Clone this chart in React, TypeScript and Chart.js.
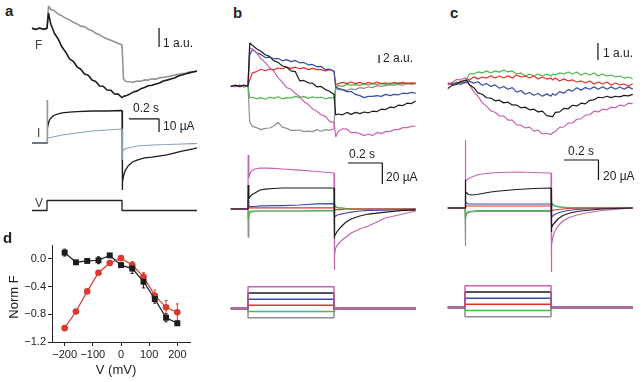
import React, { useEffect, useRef } from "react";
import { Chart, registerables } from "chart.js";

Chart.register(...registerables);
const FONT = "'Liberation Sans', Arial, Helvetica, sans-serif";
Chart.defaults.font.family = FONT;

// ---------- colours ----------
const C_BLACK = "#1c1c1c";
const C_GRAY_A = "#8e9497";
const C_GRAY_AI = "#89a1b1";
const C_MAGENTA = "#c865b2";
const C_BLUE = "#3a4ea2";
const C_RED = "#e5302a";
const C_GREEN = "#4db848";
const C_GRAY = "#8d9092";
const C_D_RED = "#d93a30";

// ---------- time bases (s, pulse from 0 to 0.5 s) ----------
const TIME_F = [-0.1, -0.075, -0.05, -0.025, 0, 0.01, 0.025, 0.05, 0.075, 0.1, 0.125, 0.15, 0.175, 0.2, 0.225, 0.25, 0.275, 0.3, 0.325, 0.35, 0.375, 0.4, 0.425, 0.45, 0.475, 0.5, 0.51, 0.525, 0.55, 0.575, 0.6, 0.625, 0.65, 0.675, 0.7, 0.725, 0.75, 0.775, 0.8, 0.825, 0.85, 0.875, 0.9, 0.925, 0.95, 0.975, 1.0];
const TIME_I = [-0.1, 0, 0.001, 0.005, 0.01, 0.02, 0.04, 0.07, 0.1, 0.15, 0.2, 0.3, 0.4, 0.5, 0.501, 0.505, 0.51, 0.52, 0.54, 0.57, 0.6, 0.65, 0.7, 0.8, 0.9, 0.975, 1.0];
const TIME_V_A = [-0.1, 0, 0, 0.5, 0.5, 1.0];
const TIME_V_BC = [-0.1, 0, 0, 0.5, 0.5, 0.975];

// ---------- panel a : fluorescence (a.u.) ----------
const F_A_BLACK = [0.05, -0.03, 0.06, -0.02, 0.04, 0.84, 0.26, -0.24, -0.53, -0.95, -1.22, -1.57, -1.70, -1.99, -2.12, -2.37, -2.44, -2.68, -2.76, -3.00, -3.01, -3.21, -3.22, -3.42, -3.43, -3.62, -3.54, -3.52, -3.43, -3.32, -3.27, -3.15, -3.08, -2.99, -2.96, -2.89, -2.84, -2.74, -2.69, -2.63, -2.58, -2.47, -2.42, -2.36, -2.31, -2.25, -2.22];
const F_A_GRAY = [0.02, -0.01, 0.03, 0.0, 0.01, 1.21, 1.03, 0.96, 0.78, 0.69, 0.56, 0.48, 0.35, 0.27, 0.15, 0.12, -0.01, -0.09, -0.23, -0.30, -0.43, -0.51, -0.59, -0.67, -0.76, -0.83, -2.63, -2.76, -2.78, -2.80, -2.74, -2.75, -2.68, -2.69, -2.62, -2.64, -2.56, -2.55, -2.51, -2.48, -2.42, -2.38, -2.35, -2.33, -2.26, -2.27, -2.20];
// panel a : current (µA)
const I_A_BLACK = [0, 0, 33, 11.5, 15.4, 18.5, 20.8, 22.3, 23.1, 23.8, 24.2, 24.6, 24.6, 25.0, -36.2, -30, -25.4, -21.5, -17.7, -14.6, -13.1, -11.5, -10.8, -9.2, -6.2, -4.5, -3.8];
const I_A_GRAY = [0, 0, 33, 3.8, 3.8, 4.2, 4.6, 5.4, 6.2, 6.9, 7.7, 9.2, 10.0, 10.8, -13, -6.9, -5.4, -4.6, -3.8, -3.1, -2.3, -1.9, -1.5, -1.2, -0.8, -0.5, -0.4];
// panel a : voltage (mV)
const V_A = [-80, -80, 80, 80, -80, -80];

// ---------- panel b : fluorescence (a.u.) ----------
const F_B_MAGENTA = [0.2, -0.2, 0.25, -0.1, 0.1, 9.5, 9.3, 8.4, 6.8, 5.9, 4.6, 3.7, 2.1, 0.9, -0.4, -0.8, -1.9, -2.6, -3.9, -4.6, -5.7, -6.3, -7.2, -7.6, -8.9, -9.1, -12.75, -11.3, -10.7, -10.8, -11.7, -11.6, -11.9, -12.4, -12.0, -12.4, -11.6, -11.9, -11.4, -11.4, -10.9, -10.9, -10.4, -10.4, -10.1, -10.0];
const F_B_BLACK = [-0.2, 0.2, -0.1, 0.25, 0, 10.75, 10.2, 9.3, 8.7, 7.8, 7.4, 6.3, 5.9, 5.0, 4.7, 3.8, 3.6, 1.3, 1.4, 0.8, 0.7, -0.2, -0.1, -0.9, -1.3, -2.1, -7.25, -7.0, -7.2, -6.6, -7.1, -6.6, -6.9, -6.5, -6.7, -6.3, -6.4, -5.8, -5.9, -5.3, -5.4, -4.8, -4.9, -4.3, -4.4, -3.75];
const F_B_BLUE = [0.1, -0.15, 0.2, -0.2, 0.05, 7.75, 9.1, 8.3, 7.9, 7.1, 7.2, 6.8, 6.9, 6.3, 6.6, 6.1, 6.4, 5.8, 5.9, 5.3, 5.4, 4.8, 4.9, 4.1, 4.2, 3.7, -0.25, -0.6, -0.9, -1.4, -1.4, -2.1, -2.4, -2.9, -2.6, -2.6, -2.4, -2.6, -2.1, -2.4, -2.1, -2.2, -1.8, -1.9, -1.6, -1.8];
const F_B_RED = [-0.1, 0.15, -0.2, 0.1, -0.05, 1.5, 3.3, 3.6, 4.2, 3.8, 4.2, 4.1, 4.5, 4.3, 4.7, 4.4, 4.7, 4.3, 4.6, 4.1, 4.4, 4.1, 4.1, 3.8, 4.1, 3.75, 0.25, 0.6, 0.9, 0.6, 1.0, 0.6, 0.9, 0.5, 0.9, 0.6, 1.0, 0.6, 0.8, 0.5, 0.9, 0.6, 0.9, 0.6, 0.8, 0.7];
const F_B_GREEN = [0.1, -0.1, 0.15, -0.15, 0.05, -3.0, -2.8, -3.2, -2.9, -3.3, -2.8, -3.1, -2.7, -3.2, -2.9, -3.0, -2.6, -2.9, -2.6, -3.1, -2.7, -3.0, -2.8, -3.2, -2.9, -3.0, -0.25, 0.1, -0.1, 0.4, 0.2, 0.35, 0.15, 0.5, 0.3, 0.6, 0.4, 0.6, 0.4, 0.7, 0.5, 0.8, 0.6, 0.8, 0.6, 0.75];
const F_B_GRAY = [0.0, 0.1, -0.1, 0.05, 0.0, -9.0, -10.1, -10.4, -10.9, -10.6, -10.5, -10.0, -9.1, -10.3, -10.6, -11.1, -11.1, -11.0, -11.4, -11.3, -11.4, -10.9, -11.3, -10.9, -11.1, -10.7, -0.5, -0.9, -0.9, -1.1, -0.7, -0.9, -0.4, -0.6, -0.2, -0.4, 0.1, -0.1, 0.1, 0.3, 0.2, 0.4, 0.2, 0.6, 0.4, 0.5];
// panel b : current (µA)
const I_B_MAGENTA = [0, 0, 51.4, 29.5, 33.3, 36.2, 38.1, 39.0, 39.0, 38.6, 38.1, 37.1, 35.7, 34.3, -58.1, -43.8, -37.1, -34.3, -30.5, -26.7, -22.9, -19.0, -16.2, -8.6, -4.8, -1.9];
const I_B_BLACK = [0, 0, 22.9, 9.5, 11.4, 13.3, 15.2, 18.1, 19.0, 19.5, 20.0, 20.0, 20.0, 20.0, -27.6, -25.7, -23.8, -21.0, -17.1, -12.4, -9.5, -6.7, -4.8, -2.9, -1.4, -1.0];
const I_B_BLUE = [0, 0, 8.6, 2.4, 2.4, 2.4, 2.4, 2.9, 2.9, 3.3, 3.3, 3.8, 4.8, 5.2, -8.6, -7.6, -6.7, -5.7, -4.8, -3.8, -2.9, -1.9, -1.4, -1.0, -0.5, 0];
const I_B_RED = [0, 0, 3.8, 1, 1, 1, 1, 1, 1, 1, 1, 1, 1, 1, -2.9, -1.4, -0.5, -0.5, -0.5, 0, 0, 0, 0, 0, 0, 0];
const I_B_GREEN = [0, 0, -8.6, -2.9, -2.4, -1.9, -1.9, -1.9, -1.9, -1.9, -1.9, -1.9, -1.6, -1.4, 4.8, 2.9, 1.9, 1.4, 1.0, 0.5, 0, 0, 0, 0, 0, 0];
const I_B_GRAY = [0, 0, -26.7, -6.7, -3.8, -2.9, -2.4, -1.9, -1.9, -1.9, -1.9, -1.9, -1.9, -1.9, 6.7, 3.8, 2.4, 1.4, 1.0, 0.5, 0, 0, 0, 0, 0, 0];
// panel b/c : voltage steps (mV): magenta, black, blue, red, green, gray
const V_LEVELS = [160, 100, 40, -20, -80, -140];
const V_HOLD = -50;

// ---------- panel c : fluorescence (a.u.) ----------
const F_C_MAGENTA = [0.03, 0.08, 0.27, 0.25, 0.36, 0.22, -0.02, -0.45, -0.71, -1.10, -1.30, -1.58, -1.66, -1.88, -1.89, -2.12, -2.12, -2.41, -2.42, -2.59, -2.54, -2.77, -2.71, -2.94, -2.90, -2.98, -2.86, -2.80, -2.55, -2.52, -2.30, -2.29, -2.07, -2.05, -1.83, -1.81, -1.60, -1.64, -1.48, -1.52, -1.36, -1.40, -1.24, -1.29, -1.13, -1.16];
const F_C_BLACK = [-0.27, -0.08, -0.03, 0.16, 0.20, 0.22, -0.04, -0.20, -0.52, -0.60, -0.81, -0.83, -0.99, -0.95, -1.11, -1.07, -1.23, -1.24, -1.40, -1.36, -1.52, -1.48, -1.64, -1.60, -1.86, -1.90, -1.93, -1.67, -1.64, -1.43, -1.46, -1.25, -1.29, -1.13, -1.17, -0.96, -0.93, -0.78, -0.81, -0.72, -0.80, -0.72, -0.76, -0.67, -0.70, -0.61];
const F_C_BLUE = [0.06, -0.03, 0.07, -0.02, 0.10, 0.06, 0.18, 0.05, 0.13, -0.07, 0.03, -0.14, -0.05, -0.25, -0.15, -0.31, -0.21, -0.48, -0.38, -0.60, -0.50, -0.66, -0.56, -0.72, -0.58, -0.72, -0.57, -0.66, -0.45, -0.54, -0.33, -0.42, -0.22, -0.36, -0.21, -0.31, -0.17, -0.31, -0.16, -0.31, -0.17, -0.31, -0.18, -0.31, -0.17, -0.30];
const F_C_RED = [-0.06, 0.05, 0.0, 0.12, 0.06, 0.31, 0.22, 0.42, 0.30, 0.41, 0.35, 0.48, 0.35, 0.47, 0.35, 0.48, 0.36, 0.53, 0.41, 0.47, 0.35, 0.47, 0.29, 0.41, 0.29, 0.35, 0.23, 0.35, 0.18, 0.30, 0.18, 0.24, 0.12, 0.18, 0.06, 0.18, 0.0, 0.12, 0.0, 0.12, -0.06, 0.06, -0.06, 0.0, -0.12, 0.0];
const F_C_GREEN = [0.05, 0.0, 0.11, 0.07, 0.24, 0.30, 0.59, 0.59, 0.71, 0.65, 0.77, 0.65, 0.77, 0.70, 0.82, 0.71, 0.77, 0.59, 0.65, 0.47, 0.59, 0.47, 0.59, 0.47, 0.59, 0.47, 0.59, 0.53, 0.65, 0.59, 0.71, 0.59, 0.71, 0.53, 0.65, 0.53, 0.65, 0.47, 0.59, 0.47, 0.53, 0.41, 0.47, 0.35, 0.41, 0.29];
// panel c : current (µA)
const I_C_MAGENTA = [0, 0, 68, 27, 28, 29.5, 31, 33, 34, 35, 35.5, 36, 35.5, 35, -64, -37, -30, -24, -18, -13, -10, -7, -5, -2.5, -1, 0];
const I_C_BLACK = [0, 0, 28, 16, 15, 13.5, 13, 13.5, 14.5, 16, 17, 18.5, 19.5, 20, -24, -20, -17, -15, -11, -7.5, -5.5, -3.5, -2.5, -1, -0.5, 0];
const I_C_BLUE = [0, 0, 13, 6, 5, 4, 4, 4, 4, 4, 4, 4, 4, 4, -10, -9, -8, -6.5, -5, -3.5, -2.5, -1.5, -1, -0.5, 0, 0];
const I_C_RED = [0, 0, 5, 2, 2, 2, 2, 2, 2, 2, 2, 2, 2, 2, -4, -3, -2.5, -2, -1.5, -1, -0.5, 0, 0, 0, 0, 0];
const I_C_GREEN = [0, 0, -12, -8, -5, -3.5, -3, -2.5, -2.5, -2.5, -2.5, -2.5, -2.5, -2.5, 10, 6, 4, 2.5, 1.5, 1, 0.5, 0, 0, 0, 0, 0];
const I_C_GRAY = [0, 0, -38, -10, -6, -4.5, -4, -3.5, -3.5, -3.5, -3.5, -3.5, -3.5, -3.5, 11, 5, 3, 2, 1, 0.5, 0, 0, 0, 0, 0, 0];

// ---------- panel d : F–V ----------
const D_V = [-200, -160, -120, -80, -40, 0, 40, 80, 120, 160, 200];
const D_RED = [-1.0, -0.76, -0.47, -0.2, -0.06, 0.01, -0.09, -0.26, -0.53, -0.7, -0.77];
const D_RED_ERR = [0.01, 0.01, 0.02, 0.02, 0.01, 0.01, 0.05, 0.06, 0.08, 0.1, 0.12];
const D_BLACK = [0.09, -0.05, -0.03, -0.02, 0.05, -0.09, -0.14, -0.33, -0.58, -0.85, -0.93];
const D_BLACK_ERR = [0.05, 0.02, 0.02, 0.05, 0.02, 0.02, 0.07, 0.09, 0.06, 0.06, 0.02];
const D_X_TICKS = [-200, -100, 0, 100, 200];
const D_Y_TICKS = [-1.2, -0.8, -0.4, 0.0];

// ---------- scale bars (data units) ----------
const SB_A_F = { t: [0.747, 0.747], v: [0.05, -0.95] }; // 1 a.u.
const SB_A_I = { t: [0.547, 0.747, 0.747], v: [18.5, 18.5, 8.5] }; // 0.2 s, 10 µA
const SB_B_F = { t: [0.762, 0.762], v: [7.75, 5.75] }; // 2 a.u.
const SB_B_I = { t: [0.581, 0.781, 0.781], v: [43.8, 43.8, 23.8] }; // 0.2 s, 20 µA
const SB_C_F = { t: [0.773, 0.773], v: [2.41, 1.41] }; // 1 a.u.
const SB_C_I = { t: [0.576, 0.776, 0.776], v: [48, 48, 28] }; // 0.2 s, 20 µA

// ---------- layout (page px) ----------
type Box = { left: number; top: number; width: number; height: number };
type Map = { x0: number; kx: number; y0: number; ky: number };
const MAP_A_F: Map = { x0: 47, kx: 150, y0: 29, ky: 19 };
const MAP_A_I: Map = { x0: 47, kx: 150, y0: 143, ky: 1.3 };
const MAP_A_V: Map = { x0: 47, kx: 150, y0: 205.5, ky: 0.0625 };
const MAP_B_F: Map = { x0: 248, kx: 172, y0: 86, ky: 4 };
const MAP_B_I: Map = { x0: 248, kx: 172, y0: 209, ky: 1.05 };
const MAP_B_V: Map = { x0: 248, kx: 172, y0: 303.3, ky: 0.1033 };
const MAP_C_F: Map = { x0: 465, kx: 172, y0: 84, ky: 17 };
const MAP_C_I: Map = { x0: 465, kx: 172, y0: 208, ky: 1.0 };
const MAP_C_V: Map = { x0: 465, kx: 172, y0: 302.3, ky: 0.1033 };

const zip = (t: number[], v: number[]) => v.map((y, i) => ({ x: t[i], y }));
const trace = (t: number[], v: number[], color: string, width = 1.2) => ({
  data: zip(t, v),
  borderColor: color,
  backgroundColor: color,
  borderWidth: width,
  borderJoinStyle: "bevel",
  showLine: true,
  pointRadius: 0,
  pointHoverRadius: 0,
  tension: 0,
  fill: false,
});
const stepV = (level: number) => [V_HOLD, V_HOLD, level, level, V_HOLD, V_HOLD];

function MiniChart({ box, map, datasets }: { box: Box; map: Map; datasets: any[] }) {
  const ref = useRef<HTMLCanvasElement | null>(null);
  useEffect(() => {
    const xmin = (box.left - map.x0) / map.kx;
    const xmax = (box.left + box.width - map.x0) / map.kx;
    const ymax = (map.y0 - box.top) / map.ky;
    const ymin = (map.y0 - (box.top + box.height)) / map.ky;
    const chart = new Chart(ref.current as HTMLCanvasElement, {
      type: "scatter",
      data: { datasets },
      options: {
        responsive: false,
        animation: false,
        events: [],
        layout: { padding: 0, autoPadding: false },
        plugins: { legend: { display: false }, tooltip: { enabled: false } },
        scales: {
          x: { type: "linear", display: false, min: xmin, max: xmax },
          y: { type: "linear", display: false, min: ymin, max: ymax },
        },
      },
    } as any);
    return () => chart.destroy();
  }, []);
  return (
    <canvas
      ref={ref}
      width={box.width}
      height={box.height}
      style={{ position: "absolute", left: box.left, top: box.top, width: box.width, height: box.height }}
    />
  );
}

const errorBars = {
  id: "errorBars",
  beforeDatasetsDraw(chart: any) {
    const ctx = chart.ctx;
    const xs = chart.scales.x;
    const ys = chart.scales.y;
    chart.data.datasets.forEach((ds: any) => {
      if (!ds.errors) return;
      ctx.save();
      ctx.strokeStyle = ds.borderColor;
      ctx.lineWidth = 1;
      ds.data.forEach((p: any, i: number) => {
        const e = ds.errors[i];
        const x = xs.getPixelForValue(p.x);
        const y1 = ys.getPixelForValue(p.y + e);
        const y2 = ys.getPixelForValue(p.y - e);
        ctx.beginPath();
        ctx.moveTo(x, y1);
        ctx.lineTo(x, y2);
        ctx.moveTo(x - 1.5, y1);
        ctx.lineTo(x + 1.5, y1);
        ctx.moveTo(x - 1.5, y2);
        ctx.lineTo(x + 1.5, y2);
        ctx.stroke();
      });
      ctx.restore();
    });
  },
};

const minus = (v: number, digits: number) => (v < -1e-9 ? "\u2212" : "") + Math.abs(v).toFixed(digits);

function DChart() {
  const ref = useRef<HTMLCanvasElement | null>(null);
  useEffect(() => {
    const axisCommon = {
      grid: { drawOnChartArea: false, drawTicks: true, tickLength: 4, color: "#222", lineWidth: 1 },
      border: { display: true, color: "#222", width: 1 },
    };
    const chart = new Chart(ref.current as HTMLCanvasElement, {
      type: "scatter",
      data: {
        datasets: [
          {
            data: zip(D_V, D_BLACK),
            errors: D_BLACK_ERR,
            borderColor: C_BLACK,
            backgroundColor: C_BLACK,
            borderWidth: 1.2,
            showLine: true,
            pointStyle: "rect",
            pointRadius: 4.2,
            pointBorderWidth: 0,
          },
          {
            data: zip(D_V, D_RED),
            errors: D_RED_ERR,
            borderColor: C_D_RED,
            backgroundColor: C_D_RED,
            borderWidth: 1.2,
            showLine: true,
            pointStyle: "circle",
            pointRadius: 3.3,
            pointBorderWidth: 0,
          },
        ],
      },
      options: {
        responsive: false,
        animation: false,
        events: [],
        layout: { padding: { left: 22, top: 20, right: 15, bottom: 18 }, autoPadding: false },
        plugins: { legend: { display: false }, tooltip: { enabled: false } },
        scales: {
          x: {
            type: "linear",
            min: -245,
            max: 245,
            afterBuildTicks: (s: any) => {
              s.ticks = D_X_TICKS.map((v) => ({ value: v }));
            },
            afterFit: (s: any) => {
              s.height = 22;
            },
            ...axisCommon,
            ticks: { color: "#222", font: { size: 11 }, padding: 2, maxRotation: 0, autoSkip: false, callback: (v: any) => minus(Number(v), 0) },
          },
          y: {
            type: "linear",
            min: -1.2,
            max: 0.2,
            afterBuildTicks: (s: any) => {
              s.ticks = D_Y_TICKS.map((v) => ({ value: v }));
            },
            afterFit: (s: any) => {
              s.width = 30;
            },
            ...axisCommon,
            ticks: { color: "#222", font: { size: 11 }, padding: 2, autoSkip: false, callback: (v: any) => minus(Number(v), 1) },
          },
        },
      },
      plugins: [errorBars],
    } as any);
    return () => chart.destroy();
  }, []);
  return <canvas ref={ref} width={205} height={157} style={{ position: "absolute", left: 0, top: 225, width: 205, height: 157 }} />;
}

function Label({ text, x, baseline, size = 12, bold = false, color = "#222" }: any) {
  return (
    <div
      style={{
        position: "absolute",
        left: x,
        top: baseline - 0.8465 * size,
        fontSize: size,
        lineHeight: 1,
        fontWeight: bold ? 700 : 400,
        color,
        whiteSpace: "nowrap",
        fontFamily: FONT,
      }}
    >
      {text}
    </div>
  );
}

export default function App() {
  const aF = [trace(TIME_F, F_A_BLACK, C_BLACK, 1.6), trace(TIME_F, F_A_GRAY, C_GRAY_A, 1.6), trace(SB_A_F.t, SB_A_F.v, "#111", 1.2)];
  const aI = [trace(TIME_I, I_A_GRAY, C_GRAY_AI, 1.1), trace(TIME_I, I_A_BLACK, C_BLACK, 1.3), trace(SB_A_I.t, SB_A_I.v, "#111", 1.2)];
  const aV = [trace(TIME_V_A, V_A, "#222", 1.3)];

  const bF = [
    trace(TIME_F, F_B_BLACK, C_BLACK),
    trace(TIME_F, F_B_MAGENTA, C_MAGENTA),
    trace(TIME_F, F_B_BLUE, C_BLUE),
    trace(TIME_F, F_B_RED, C_RED),
    trace(TIME_F, F_B_GREEN, C_GREEN),
    trace(TIME_F, F_B_GRAY, C_GRAY),
    trace(SB_B_F.t, SB_B_F.v, "#111", 1.2),
  ];
  const bI = [
    trace(TIME_I, I_B_BLACK, C_BLACK),
    trace(TIME_I, I_B_MAGENTA, C_MAGENTA),
    trace(TIME_I, I_B_RED, C_RED),
    trace(TIME_I, I_B_BLUE, C_BLUE),
    trace(TIME_I, I_B_GREEN, C_GREEN),
    trace(TIME_I, I_B_GRAY, C_GRAY),
    trace(SB_B_I.t, SB_B_I.v, "#111", 1.2),
  ];
  const vColors = [C_MAGENTA, C_BLACK, C_BLUE, C_RED, C_GREEN, C_GRAY];
  const bV = V_LEVELS.map((lv, i) => trace(TIME_V_BC, stepV(lv), vColors[i], 1.5));

  const cF = [
    trace(TIME_F, F_C_BLACK, C_BLACK),
    trace(TIME_F, F_C_MAGENTA, C_MAGENTA),
    trace(TIME_F, F_C_BLUE, C_BLUE),
    trace(TIME_F, F_C_RED, C_RED),
    trace(TIME_F, F_C_GREEN, C_GREEN),
    trace(SB_C_F.t, SB_C_F.v, "#111", 1.2),
  ];
  const cI = [
    trace(TIME_I, I_C_BLACK, C_BLACK),
    trace(TIME_I, I_C_MAGENTA, C_MAGENTA),
    trace(TIME_I, I_C_RED, C_RED),
    trace(TIME_I, I_C_BLUE, C_BLUE),
    trace(TIME_I, I_C_GREEN, C_GREEN),
    trace(TIME_I, I_C_GRAY, C_GRAY),
    trace(SB_C_I.t, SB_C_I.v, "#111", 1.2),
  ];
  const cV = V_LEVELS.map((lv, i) => trace(TIME_V_BC, stepV(lv), vColors[i], 1.5));

  return (
    <div style={{ position: "fixed", left: 0, top: 0, width: 642, height: 382, background: "#fff", overflow: "hidden", fontFamily: FONT }}>
      <MiniChart box={{ left: 20, top: 0, width: 190, height: 105 }} map={MAP_A_F} datasets={aF} />
      <MiniChart box={{ left: 20, top: 95, width: 190, height: 105 }} map={MAP_A_I} datasets={aI} />
      <MiniChart box={{ left: 20, top: 192, width: 190, height: 25 }} map={MAP_A_V} datasets={aV} />

      <MiniChart box={{ left: 222, top: 30, width: 200, height: 115 }} map={MAP_B_F} datasets={bF} />
      <MiniChart box={{ left: 222, top: 145, width: 200, height: 132 }} map={MAP_B_I} datasets={bI} />
      <MiniChart box={{ left: 222, top: 278, width: 200, height: 45 }} map={MAP_B_V} datasets={bV} />

      <MiniChart box={{ left: 440, top: 30, width: 200, height: 115 }} map={MAP_C_F} datasets={cF} />
      <MiniChart box={{ left: 440, top: 132, width: 200, height: 146 }} map={MAP_C_I} datasets={cI} />
      <MiniChart box={{ left: 440, top: 278, width: 200, height: 45 }} map={MAP_C_V} datasets={cV} />

      <DChart />

      <Label text="a" x={5} baseline={16} size={15} bold />
      <Label text="b" x={233} baseline={18} size={15} bold />
      <Label text="c" x={450} baseline={18} size={15} bold />
      <Label text="d" x={3} baseline={243} size={15} bold />
      <Label text="F" x={35} baseline={49} color="#444" />
      <Label text="I" x={37} baseline={137} color="#444" />
      <Label text="V" x={35} baseline={207} color="#444" />
      <Label text="1 a.u." x={163} baseline={47} />
      <Label text="0.2 s" x={133} baseline={112} />
      <Label text="10 µA" x={163} baseline={130} />
      <Label text="2 a.u." x={383} baseline={62} />
      <Label text="0.2 s" x={349} baseline={158} />
      <Label text="20 µA" x={386} baseline={181} />
      <Label text="1 a.u." x={603} baseline={57} />
      <Label text="0.2 s" x={568} baseline={155} />
      <Label text="20 µA" x={603} baseline={180} />

      <div style={{ position: "absolute", left: 13, top: 297, transform: "translate(-50%, -50%) rotate(-90deg)", fontSize: 13, lineHeight: 1, color: "#222", whiteSpace: "nowrap" }}>Norm F</div>
      <div style={{ position: "absolute", left: 116, top: 369, transform: "translate(-50%, -50%)", fontSize: 13, lineHeight: 1, color: "#222", whiteSpace: "nowrap" }}>V (mV)</div>
    </div>
  );
}
